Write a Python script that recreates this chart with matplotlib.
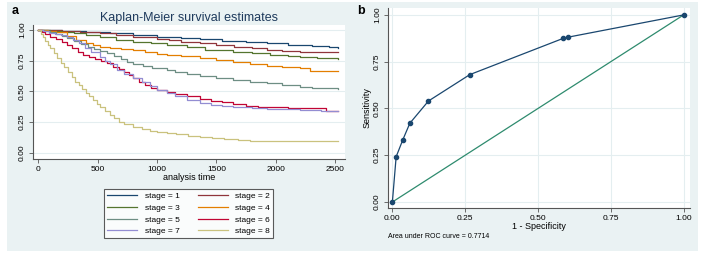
import matplotlib
matplotlib.use("Agg")
import matplotlib.pyplot as plt
from matplotlib.patches import Rectangle

plt.rcParams['font.family'] = ['Liberation Sans', 'DejaVu Sans']

# ---------------- data ----------------
stage_labels = ["stage = 1", "stage = 2", "stage = 3", "stage = 4",
                "stage = 5", "stage = 6", "stage = 7", "stage = 8"]
stage_colors = ["#1a476f", "#90353b", "#55752f", "#e37e00",
                "#6e8e84", "#c10534", "#938dd2", "#cac27e"]

t1 = [0, 200, 400, 600, 800, 1000, 1200, 1361, 1550, 1750, 1922, 2100, 2300, 2450, 2522]
s1 = [1.0, 0.995, 0.985, 0.972, 0.959, 0.945, 0.933, 0.924, 0.913, 0.902, 0.892, 0.88, 0.867, 0.858, 0.856]

t2 = [0, 200, 350, 519, 650, 800, 900, 1000, 1100, 1200, 1361, 1500, 1650, 1800, 1923, 2050, 2200, 2522]
s2 = [1.0, 0.995, 0.985, 0.975, 0.96, 0.946, 0.94, 0.925, 0.915, 0.905, 0.892, 0.88, 0.865, 0.85, 0.84, 0.825, 0.822, 0.82]

t3 = [0, 100, 200, 300, 400, 519, 650, 800, 950, 1081, 1250, 1400, 1642, 1800, 1950, 2100, 2203, 2350, 2522]
s3 = [1.0, 0.995, 0.985, 0.975, 0.96, 0.94, 0.92, 0.90, 0.89, 0.878, 0.86, 0.84, 0.824, 0.81, 0.795, 0.785, 0.78, 0.768, 0.764]

t4 = [0, 80, 150, 240, 320, 400, 460, 519, 600, 700, 800, 900, 1000, 1081, 1200, 1361, 1500, 1642, 1780, 1923, 2050, 2203, 2290, 2522]
s4 = [1.0, 0.995, 0.985, 0.95, 0.92, 0.89, 0.875, 0.865, 0.855, 0.845, 0.837, 0.82, 0.805, 0.797, 0.785, 0.77, 0.755, 0.743, 0.725, 0.71, 0.70, 0.688, 0.669, 0.669]

t5 = [0, 50, 100, 150, 200, 239, 300, 360, 420, 470, 519, 580, 640, 700, 750, 800, 880, 960, 1081, 1150, 1250, 1361, 1500, 1642, 1780, 1923, 2050, 2203, 2300, 2522]
s5 = [1.0, 0.99, 0.98, 0.965, 0.948, 0.932, 0.91, 0.885, 0.86, 0.845, 0.832, 0.81, 0.785, 0.76, 0.74, 0.724, 0.705, 0.69, 0.675, 0.66, 0.64, 0.626, 0.61, 0.593, 0.58, 0.566, 0.55, 0.534, 0.525, 0.523]

t6 = [0, 30, 60, 100, 150, 200, 240, 280, 330, 380, 430, 480, 530, 580, 630, 680, 720, 760, 800, 850, 900, 950, 1000, 1080, 1150, 1250, 1361, 1450, 1550, 1642, 1750, 1850, 1923, 2100, 2203, 2420, 2522]
s6 = [1.0, 0.985, 0.965, 0.945, 0.925, 0.9, 0.878, 0.85, 0.82, 0.795, 0.78, 0.765, 0.75, 0.73, 0.70, 0.68, 0.655, 0.63, 0.607, 0.58, 0.555, 0.53, 0.515, 0.499, 0.48, 0.46, 0.437, 0.425, 0.41, 0.396, 0.38, 0.372, 0.369, 0.362, 0.361, 0.342, 0.342]

t7 = [0, 40, 90, 140, 190, 240, 290, 340, 390, 440, 519, 560, 600, 660, 720, 800, 870, 940, 1000, 1081, 1150, 1250, 1361, 1450, 1550, 1642, 1800, 1923, 2100, 2203, 2380, 2522]
s7 = [1.0, 0.99, 0.975, 0.965, 0.955, 0.946, 0.92, 0.89, 0.855, 0.82, 0.78, 0.75, 0.72, 0.675, 0.645, 0.607, 0.575, 0.545, 0.515, 0.485, 0.46, 0.43, 0.404, 0.392, 0.384, 0.377, 0.368, 0.36, 0.354, 0.35, 0.339, 0.339]

t8 = [0, 20, 40, 60, 80, 100, 130, 160, 190, 220, 250, 280, 310, 340, 370, 400, 430, 460, 490, 520, 560, 600, 640, 680, 720, 800, 870, 940, 1000, 1081, 1160, 1260, 1361, 1460, 1560, 1680, 1780, 2522]
s8 = [1.0, 0.97, 0.94, 0.91, 0.88, 0.85, 0.81, 0.77, 0.73, 0.70, 0.66, 0.62, 0.58, 0.55, 0.52, 0.49, 0.46, 0.43, 0.40, 0.375, 0.34, 0.31, 0.28, 0.255, 0.235, 0.214, 0.195, 0.181, 0.17, 0.16, 0.15, 0.14, 0.132, 0.122, 0.114, 0.108, 0.098, 0.098]

km_times = [t1, t2, t3, t4, t5, t6, t7, t8]
km_surv = [s1, s2, s3, s4, s5, s6, s7, s8]

km_xticks = [0, 500, 1000, 1500, 2000, 2500]
km_yticks = [0.00, 0.25, 0.50, 0.75, 1.00]

roc_fpr = [0.0, 0.013, 0.036, 0.060, 0.124, 0.266, 0.587, 0.603, 1.0]
roc_tpr = [0.0, 0.242, 0.333, 0.421, 0.540, 0.681, 0.875, 0.881, 1.0]
roc_ticks = [0.00, 0.25, 0.50, 0.75, 1.00]
auc_text = "Area under ROC curve = 0.7714"

# ---------------- style ----------------
W, H = 704, 259
BG = "#eaf2f3"
GRID = "#e4eef0"
AX = "#555555"
fig = plt.figure(figsize=(W / 100, H / 100), dpi=100)
fig.patch.set_facecolor("white")
fig.patches.append(Rectangle((7 / W, 1 - 251 / H), (698 - 7) / W, (251 - 2) / H,
                             transform=fig.transFigure, facecolor=BG, edgecolor="none", zorder=-10))

def ax_rect(x0, y0, x1, y1):
    return [x0 / W, 1 - y1 / H, (x1 - x0) / W, (y1 - y0) / H]

def style_axes(ax):
    ax.set_zorder(2)
    for side in ("top", "right"):
        ax.spines[side].set_visible(False)
    for side in ("left", "bottom"):
        ax.spines[side].set_color(AX)
        ax.spines[side].set_linewidth(0.8)
    ax.tick_params(direction="out", length=3, width=0.6, color=AX, labelsize=6, pad=2)
    ax.set_facecolor("white")
    ax.set_axisbelow(True)

# ---------------- panel a ----------------
axa = fig.add_axes(ax_rect(33, 25, 345, 159))
style_axes(axa)
lines = []
for t, s, c, lab in zip(km_times, km_surv, stage_colors, stage_labels):
    ln, = axa.plot(t, s, drawstyle="steps-post", color=c, lw=0.9, label=lab)
    lines.append(ln)
axa.set_xlim(-45, 2582)
axa.set_ylim(-0.05, 1.04)
axa.set_xticks(km_xticks)
axa.set_yticks(km_yticks)
axa.set_yticklabels([f"{v:.2f}" for v in km_yticks], rotation=90, va="center")
axa.yaxis.grid(True, color=GRID, lw=0.8)
axa.set_xlabel("analysis time", fontsize=6.5, labelpad=0)
axa.set_title("Kaplan-Meier survival estimates", fontsize=9, color="#1e3a5c", pad=3)

order = [0, 2, 4, 6, 1, 3, 5, 7]
leg = fig.legend([lines[i] for i in order], [stage_labels[i] for i in order],
                 ncol=2, loc="upper center", bbox_to_anchor=(188.5 / W, 1 - 185 / H),
                 fontsize=6, frameon=True, fancybox=False, edgecolor="#333333",
                 handlelength=3.6, handletextpad=0.9, columnspacing=2.2,
                 labelspacing=0.45, borderpad=0.4)
leg.get_frame().set_linewidth(0.8)
leg.set_zorder(3)

fig.text(12 / W, 1 - 11 / H, "a", fontsize=9, fontweight="bold", va="center", ha="left")
fig.text(357 / W, 1 - 11 / H, "b", fontsize=9, fontweight="bold", va="center", ha="left")

# ---------------- panel b ----------------
axb = fig.add_axes(ax_rect(388, 8, 690, 208))
style_axes(axb)
axb.plot([0, 1], [0, 1], color="#2e8b6e", lw=0.9)
axb.plot(roc_fpr, roc_tpr, color="#1a476f", lw=0.9, marker="o", markersize=3)
axb.set_xlim(-0.015, 1.022)
axb.set_ylim(-0.032, 1.037)
axb.set_xticks(roc_ticks)
axb.set_xticklabels([f"{v:.2f}" for v in roc_ticks])
axb.set_yticks(roc_ticks)
axb.set_yticklabels([f"{v:.2f}" for v in roc_ticks], rotation=90, va="center")
axb.grid(True, color=GRID, lw=0.8)
axb.set_xlabel("1 - Specificity", fontsize=6.5, labelpad=0)
axb.set_ylabel("Sensitivity", fontsize=6.5, labelpad=2)
fig.text(388 / W, 1 - 237 / H, auc_text, fontsize=5, va="center", ha="left")

fig.savefig("out.png", dpi=100, facecolor=fig.get_facecolor())
